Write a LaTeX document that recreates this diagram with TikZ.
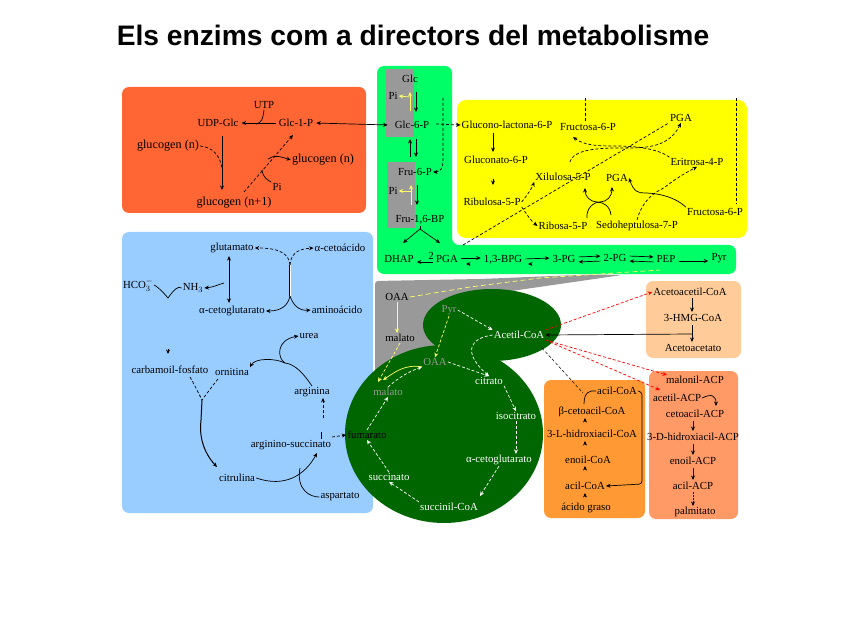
\documentclass[tikz,border=0pt]{standalone}
\usepackage{fontspec}
\setmainfont{Liberation Serif}
\newfontfamily\titlefont{Liberation Sans}
\usetikzlibrary{arrows.meta,calc}
\definecolor{cOrR}{HTML}{FF6633}
\definecolor{cBlue}{HTML}{99CCFF}
\definecolor{cGreen}{HTML}{00FF66}
\definecolor{cGray}{HTML}{999999}
\definecolor{cDark}{HTML}{006600}
\definecolor{cPeach}{HTML}{FFCC99}
\definecolor{cOrange}{HTML}{FF9933}
\definecolor{cSalmon}{HTML}{FF9966}
\definecolor{cYel}{HTML}{FFFF66}
\definecolor{cYellow}{HTML}{FFFF00}
\tikzset{
 t/.style={inner sep=1pt,font=\fontsize{10.8}{12}\selectfont,text=black},
 tl/.style={t,font=\fontsize{12.2}{13}\selectfont},
 tw/.style={t,text=white},
 tg/.style={t,text=cGray},
 ar/.style={-{Stealth[length=4.5pt,width=4pt]},line width=.7pt,black},
 arr/.style={{Stealth[length=4.5pt,width=4pt]}-{Stealth[length=4.5pt,width=4pt]},line width=.7pt,black},
 ln/.style={line width=.7pt,black},
 dsh/.style={dash pattern=on 3pt off 2pt},
 dot/.style={dash pattern=on 1.5pt off 1.5pt},
 wa/.style={ar,white,dsh},
 ya/.style={ar,cYel},
 ra/.style={ar,red,dsh},
 panel/.style={rounded corners=7pt},
 gap/.style={shorten >=2pt,shorten <=2pt},
}
\newcommand\lab[4][t]{\node[#1] (#2) at (#3) {#4};}
\begin{document}
\begin{tikzpicture}[x=1pt,y=-1pt]
\useasboundingbox (0,0) rectangle (848,636);
\node[inner sep=0pt,font=\titlefont\bfseries\fontsize{28.2}{30}\selectfont] (title) at (413,35) {Els enzims com a directors del metabolisme};
% panels
\fill[cOrR,panel] (122,87) rectangle (366,213);
\fill[cBlue,rounded corners=7pt] (122,232) -- (373,232) -- (373,513) -- (122,513) -- cycle;
\fill[cGreen,panel] (377,66) -- (452,66) -- (452,245) -- (736,245) -- (736,274) -- (377,274) -- cycle;
\fill[cYellow,rounded corners=9pt] (457,100) rectangle (747,238);
\fill[cGray] (386,69) rectangle (414,137);
\fill[cGray] (387,162) rectangle (415,228);
\fill[cGray,rounded corners=3pt] (375,400) -- (375,281) -- (480,279) -- (590,274.5) -- (622,275) -- (470,297) -- (440,400) -- cycle;
\fill[cPeach,panel] (646,281) rectangle (741,358);
\fill[cOrange,panel] (544,380) rectangle (645,518);
\fill[cSalmon,panel] (649,371) rectangle (738,519);
\fill[cDark] (492,325) ellipse [x radius=69, y radius=36];
\fill[cDark] (444,434) ellipse [x radius=99, y radius=89];
% glycolysis labels
\lab{glc}{410,79}{Glc}
\lab{pia}{393,96}{Pi}
\lab{gsp}{412,125}{Glc-6-P}
\lab{fsp}{415,172}{Fru-6-P}
\lab{pib}{393,191}{Pi}
\lab{fbp}{420,220}{Fru-1,6-BP}
\lab{dhap}{399,259}{DHAP}
\lab{two}{431,256}{2}
\lab{pga}{447,259}{PGA}
\lab{bpg}{503,260}{1,3-BPG}
\lab{pgt}{564,259}{3-PG}
\lab{pgd}{615,258}{2-PG}
\lab{pep}{666,259}{PEP}
\lab{pyrg}{719,258}{Pyr}
% glycogen labels
\lab{utp}{264,105}{UTP}
\lab{udp}{218,123}{UDP-Glc}
\lab{gop}{296,123}{Glc-1-P}
\lab[tl]{gnl}{168,146}{glucogen (n)}
\lab[tl]{gnr}{323,160}{glucogen (n)}
\lab{pic}{277,187}{Pi}
\lab[tl]{gnb}{234,203}{glucogen (n+1)}
% pentose labels
\lab{gl6}{507,125}{Glucono-lactona-6-P}
\lab{gt6}{496,160}{Gluconato-6-P}
\lab{ru5}{492,202}{Ribulosa-5-P}
\lab{xi5}{563,177}{Xilulosa-5-P}
\lab{ri5}{563,226}{Ribosa-5-P}
\lab{se7}{637,226}{Sedoheptulosa-7-P}
\lab{fr6b}{715,212}{Fructosa-6-P}
\lab{pgat}{681,118}{PGA}
\lab{fr6t}{588,127}{Fructosa-6-P}
\lab{er4}{697,162}{Eritrosa-4-P}
\lab{pgam}{617,178}{PGA}
% blue labels
\lab{glu}{232,248}{glutamato}
\lab{aca}{340,248}{α-cetoácido}
\lab{hco}{138,285}{HCO$_3^-$}
\lab{nh}{193,288}{NH$_3$}
\lab{akg}{232,311}{α-cetoglutarato}
\lab{ami}{337,310}{aminoácido}
\lab{ure}{309,336}{urea}
\lab{cbp}{170,370}{carbamoil-fosfato}
\lab{orn}{232,372}{ornitina}
\lab{arg}{312,392}{arginina}
\lab{ars}{291,445}{arginino-succinato}
\lab{cit}{237,478}{citrulina}
\lab{asp}{340,497}{aspartato}
% Krebs labels
\lab{oaag}{397,297}{OAA}
\lab{malg}{400,338}{malato}
\lab[tg]{pyrk}{449,310}{Pyr}
\lab[tw]{ace}{519,335}{Acetil-CoA}
\lab[tg]{oaak}{435,362}{OAA}
\lab[tw]{ctr}{489,381}{citrato}
\lab[tg]{malk}{388,392}{malato}
\lab[tw]{iso}{516,416}{isocitrato}
\lab{fum}{367,435}{fumarato}
\lab[tw]{akk}{499,460}{α-cetoglutarato}
\lab[tw]{suc}{389,477}{succinato}
\lab[tw]{sco}{449,507}{succinil-CoA}
% right labels
\lab{aac}{690,292}{Acetoacetil-CoA}
\lab{hmg}{693,318}{3-HMG-CoA}
\lab{act}{693,348}{Acetoacetato}
\lab{aci}{617,391}{acil-CoA}
\lab{bca}{592,412}{β-cetoacil-CoA}
\lab{hid}{592,434}{3-L-hidroxiacil-CoA}
\lab{eno}{588,460}{enoil-CoA}
\lab{acb}{585,486}{acil-CoA}
\lab{agr}{586,508}{ácido graso}
\lab{mal}{695,380}{malonil-ACP}
\lab{aap}{677,398}{acetil-ACP}
\lab{cap}{695,414}{cetoacil-ACP}
\lab{hap}{693,437}{3-D-hidroxiacil-ACP}
\lab{eap}{693,461}{enoil-ACP}
\lab{acp}{693,486}{acil-ACP}
\lab{pal}{695,512}{palmitato}
% junction points
\coordinate (ya) at (410,97);
\coordinate (yb) at (411,191);
\coordinate (fj) at (420,229);
\coordinate (dt) at (443,98);
\coordinate (pd1) at (585,98);
\coordinate (pd2) at (736,98);
\coordinate (gj) at (262,170);
\coordinate (ur) at (285,363);
\coordinate (cj) at (202,400);
\coordinate (sj) at (300,468);
\coordinate (hj) at (168,298);
\coordinate (tt) at (290,265);
\coordinate (tb) at (290,296);
\coordinate (fk) at (321,432);
\coordinate (kj) at (542,348);
% glycolysis arrows
\draw[ar] (416,92) -- (416,112);
\draw[ya] (410,111) -- (410,92);
\draw[ya] (ya) -- (pia.east);
\draw[ar] (410,157) -- (410,139);
\draw[ar] (416,139) -- (416,157);
\draw[ar] (417,185) -- (417,205);
\draw[ya] (411,205) -- (411,185);
\draw[ya] (yb) -- (pib.east);
\draw[ln] (fbp.south) -- (fj);
\draw[ar] (fj) -- (403,243);
\draw[ar] (fj) -- (440,243);
\draw[ar,gap] ([yshift=-3pt]pga.west) -- ([yshift=-3pt]dhap.east);
\draw[ar,gap] ([yshift=1pt]pga.east) -- ([yshift=1pt]pga.east -| bpg.west);
\draw[ar] (470,264) -- (466,264);
\draw[ar,gap] ([yshift=1pt]bpg.east) -- ([yshift=1pt]pgt.west);
\draw[ar] (532,264) -- (528,264);
\draw[ar,gap] ([yshift=2pt]pgt.east) -- ([yshift=2pt]pgd.west);
\draw[ar,gap] ([yshift=-3pt]pgd.west) -- ([yshift=-3pt]pgt.east);
\draw[ar,gap] ([yshift=2pt]pgd.east) -- ([yshift=2pt]pep.west);
\draw[ar,gap] ([yshift=-3pt]pep.west) -- ([yshift=-3pt]pgd.east);
\draw[ar,gap] ([yshift=-2pt]pep.east) -- ([yshift=-2pt]pep.east -| pyrg.west);
% glycogen arrows
\draw[arr,gap] (gop.east) -- ([xshift=-4pt]gsp.west);
\draw[ar,gap] (gop.west) -- (udp.east);
\draw[ln] (utp.south) .. controls (263,118) and (262,123) .. (256,124);
\draw[ar] (222,136) -- (222,190);
\draw[ln,dsh] (gnl.east) .. controls (212,147) and (220,155) .. (222,168);
\draw[ar,dsh] (244,192) -- (293,135);
\draw[ln] (pic.north west) .. controls (268,180) and (263,178) .. (gj);
\draw[ar] (268,159) .. controls (274,155) and (279,156) .. (gnr.west);
% pentose arrows
\draw[ar,dsh] (436,124) -- (gl6.west);
\draw[ln,dsh] (dt) -- (443,160) .. controls (443,168) and (441,172) .. (435,172);
\draw[ar] (435.5,172) -- (fsp.east);
\draw[ar] (493,133) -- (493,152);
\draw[ar] (493,179) -- (493,185);
\draw[ar,dsh] (ru5.east) .. controls (528,194) and (532,188) .. (xi5.south west);
\draw[ar,dsh] (ru5.south east) .. controls (526,213) and (530,220) .. (ri5.west);
\draw[ln,dsh] (463,245) -- (pgat.south west);
\draw[ln,dsh] (pd1) -- (pd1 |- fr6t.north);
\draw[ln,dsh] (pd2) -- (736,204);
\draw[ar,dsh] (570,162) .. controls (572,152) and (590,148) .. (617,148) .. controls (640,148) and (668,150) .. (pgat.south);
\draw[ar,dsh] (er4.north west) .. controls (660,150) and (640,146) .. (617,146) .. controls (600,146) and (585,146) .. (573,137);
\draw[ar] (fr6b.north west) .. controls (672,194) and (650,193) .. (645,193) .. controls (638,193) and (634,192) .. (pgam.east);
\draw[ar,dsh] (se7.north) .. controls (641,205) and (650,195) .. (660,190) .. controls (668,186) and (672,180) .. (er4.south);
\draw[ar] (587,218) .. controls (586,208) and (594,202) .. (600,202) .. controls (607,202) and (612,196) .. (612,187);
\draw[ar] (611,215) .. controls (610,206) and (603,202) .. (597,202) .. controls (590,202) and (585,196) .. (585,188);
% blue arrows
\draw[arr,gap] ([xshift=-3pt]glu.south) -- ([xshift=-3pt]akg.north);
\draw[ar] (224,283) .. controls (217,285) and (214,287) .. (nh.east);
\draw[ln] (hco.east) .. controls (158,287) and (163,292) .. (hj) .. controls (173,291) and (178,285) .. (nh.west);
\draw[ar] (168,349) -- (168,354);
\draw[ln,double,double distance=1pt] (tt) -- (tb);
\draw[ar,dsh] (tt) .. controls (289,255) and (282,248) .. (glu.east);
\draw[ar,dsh] (tt) .. controls (291,255) and (296,249) .. (aca.west);
\draw[ar] (tb) .. controls (288,305) and (282,311) .. (akg.east);
\draw[ar] (tb) .. controls (293,305) and (299,311) .. (ami.west);
\draw[ar] (arg.north) .. controls (304,374) and (295,364) .. (ur) .. controls (275,358) and (255,358) .. (orn.north east);
\draw[ar] (ur) .. controls (277,358) and (276,340) .. (ure.west);
\draw[ln,dsh] (190,377) .. controls (194,384) and (198,392) .. (cj);
\draw[ln,dsh] (218,379) .. controls (213,385) and (208,392) .. (cj);
\draw[ar,line width=1pt] (cj) -- (201,420) .. controls (199,435) and (203,452) .. (217,467);
\draw[ar] (cit.east) .. controls (285,488) and (305,475) .. (317,453);
\draw[ln] (asp.west) .. controls (310,497) and (296,490) .. (sj);
\draw[ar,dsh] (323,418) -- (arg.south -| 323,403);
\draw[ln] (fk) -- (fk |- ars.north);
\draw[ar,dsh] (332,437) -- (fum.west);
% krebs arrows
\draw[wa] (pyrk.east) -- (ace.north west);
\draw[wa] (ace.west) .. controls (470,338) and (462,352) .. (ctr.north);
\draw[wa] (oaak.east) -- (ctr.north);
\draw[wa] (ctr.south east) -- (iso.north);
\draw[wa] (iso.south) -- (akk.north -| iso.south);
\draw[wa] (akk.south) -- (480,496);
\draw[wa] (sco.north west) -- (suc.south);
\draw[wa] (suc.north) -- (fum.south);
\draw[wa] (fum.north) -- (malk.south);
\draw[wa] (malk.north) .. controls (398,378) and (408,372) .. (oaak.south west);
\draw[ya,dsh] (pyrk.south) -- (oaak.north);
\draw[ya] (oaak.south west) .. controls (405,364) and (395,372) .. (383,380);
\draw[ya] (oaag.south) -- (malg.north -| oaag.south);
\draw[cYel,line width=.7pt,dash pattern=on 5pt off 3pt] (oaag.east) -- (470,287) -- (540,278) -- (660,270);
\draw[ya,dsh] (malg.south) -- (378,382);
% fatty acid arrows
\draw[ra] (ace.north east) -- (aac.west);
\draw[ra] (ace.south east) -- (667,375);
\draw[ra] (ace.south east) -- (660,390);
\draw[ar] (692,334) -- (ace.east);
\draw[ar] (692,298) -- (692,312);
\draw[ar] (692,325) -- (692,342);
\draw[ln,dsh,line width=.5pt] (kj) -- (583,393);
\draw[ln] (aci.west) .. controls (590,390) and (584,392) .. (584,404);
\draw[ar,rounded corners=3pt] (aci.east) -- (642,392) -- (642,484) -- (acb.east);
\draw[ar] (585,422) -- (585,418);
\draw[ar] (585,445) -- (585,441);
\draw[ar] (585,470) -- (585,466);
\draw[ar] (585,497) -- (585,493);
\draw[ar] (aap.east) .. controls (712,393) and (716,396) .. (716,406);
\draw[ar] (693,421) -- (693,431);
\draw[ar] (693,444) -- (693,455);
\draw[ar] (693,468) -- (693,480);
\draw[ar,dot] (693,492) -- (693,506);
\end{tikzpicture}
\end{document}
